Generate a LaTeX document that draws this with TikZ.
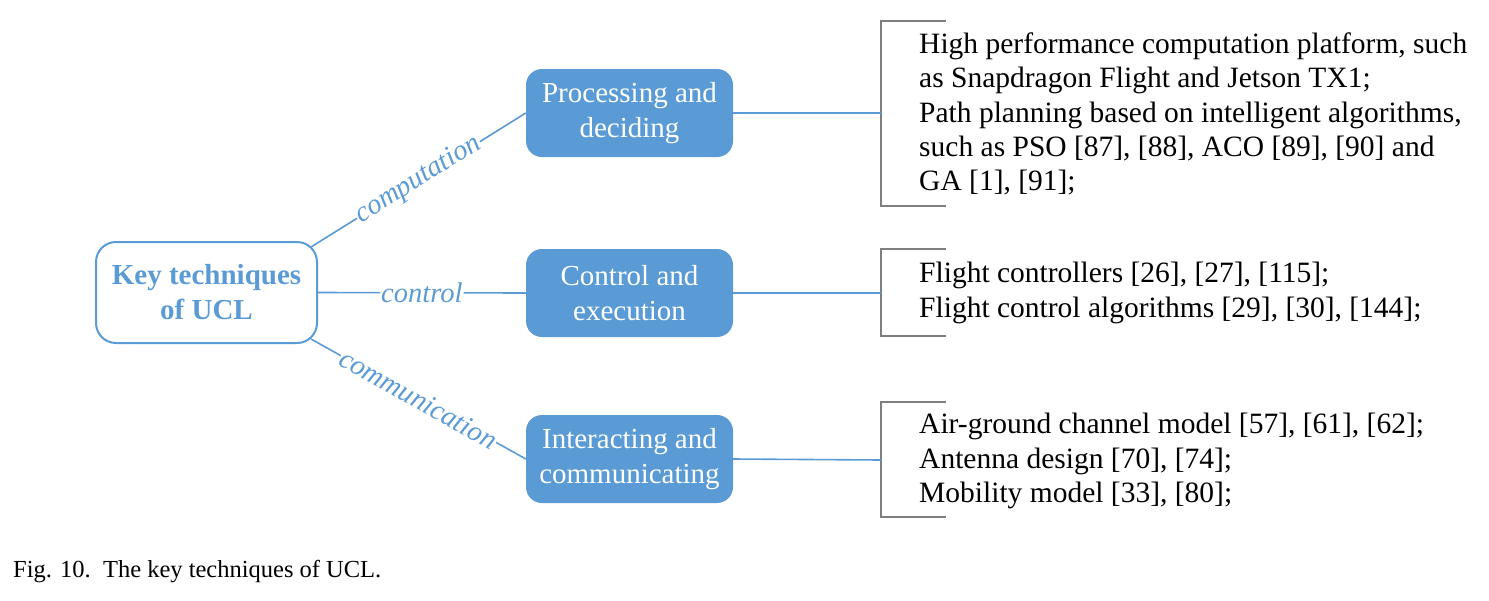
\documentclass[tikz,border=0pt]{standalone}
\usepackage{fontspec}
\setmainfont{Liberation Serif}
\definecolor{ucblue}{HTML}{5B9BD5}
\definecolor{brgray}{HTML}{7F7F7F}

\begin{document}
\begin{tikzpicture}[x=1pt,y=-1pt,
    stage/.style={fill=ucblue,text=white,rounded corners=16pt,minimum width=207pt,
      minimum height=88pt,align=center,font=\fontsize{29}{35}\selectfont},
    link/.style={ucblue,line width=1.6pt},
    tag/.style={midway,sloped,fill=white,inner sep=1pt,text=ucblue,
      font=\fontsize{28.5}{34}\selectfont\itshape},
    brk/.style={brgray,line width=2pt},
    item/.style={anchor=west,align=left,inner sep=0pt,
      font=\fontsize{29.5}{34.2}\selectfont}]
  \useasboundingbox (0,0) rectangle (1489,600);

  % centre node and the three stages
  \node[draw=ucblue,line width=2pt,rounded corners=20pt,minimum width=221pt,
    minimum height=101pt,align=center,text=ucblue,
    font=\fontsize{29}{35}\selectfont\bfseries] (key) at (206.5,292.5)
    {Key techniques\\of UCL};
  \node[stage] (proc) at (629.5,113) {Processing and\\deciding};
  \node[stage] (ctrl) at (629.5,293) {Control and\\execution};
  \node[stage] (inter) at (629.5,459) {Interacting and\\communicating};

  \draw[link] ([xshift=-7pt,yshift=-6pt]key.north east) -- (proc.west)
    node[tag] {computation};
  \draw[link] (key.east) -- (ctrl.west) node[tag] {control};
  \draw[link] ([xshift=-7pt,yshift=5pt]key.south east) -- (inter.west)
    node[tag] {communication};

  % brackets on the right
  \foreach \n/\t/\m/\b in {1/21/113/206, 2/249/293/336, 3/402/460/517}{
    \coordinate (br\n) at (881,\m);
    \draw[brk] (946,\t) -- (881,\t) -- (881,\b) -- (946,\b);
  }
  \draw[link] (proc.east) -- (br1);
  \draw[link] (ctrl.east) -- (br2);
  \draw[link] (inter.east) -- (br3);

  \node[item] (txt1) at (919,114) {High performance computation platform, such\\
    as Snapdragon Flight and Jetson TX1;\\
    Path planning based on intelligent algorithms,\\
    such as PSO [87], [88], ACO [89], [90] and\\
    GA [1], [91];};
  \node[item] (txt2) at (919,293) {Flight controllers [26], [27], [115];\\
    Flight control algorithms [29], [30], [144];};
  \node[item] (txt3) at (919,461) {Air-ground channel model [57], [61], [62];\\
    Antenna design [70], [74];\\
    Mobility model [33], [80];};

  \node[anchor=base west,inner sep=0pt,font=\fontsize{24.5}{28}\selectfont]
    (cap) at (13,577) {Fig. 10.\ \ The key techniques of UCL.};
\end{tikzpicture}
\end{document}
